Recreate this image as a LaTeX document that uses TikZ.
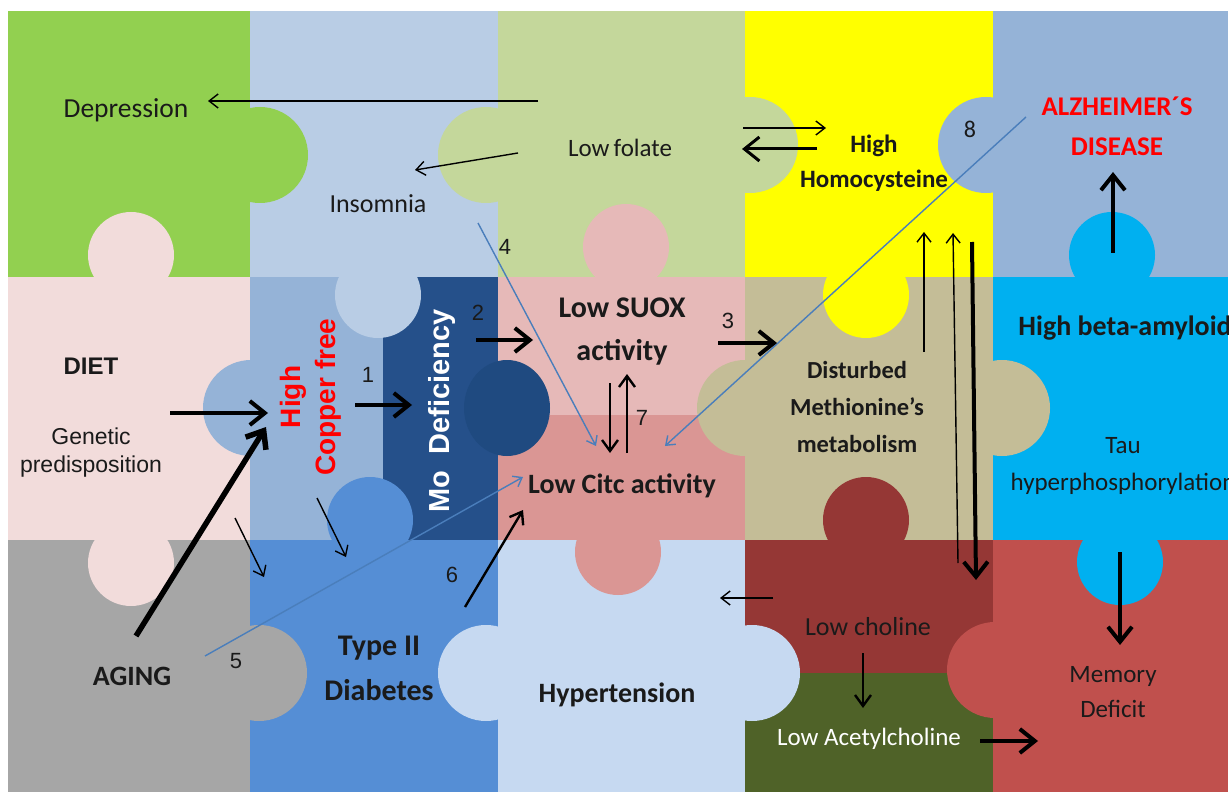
\documentclass[tikz,border=0pt]{standalone}
\usepackage{fontspec}
\setmainfont{Carlito}
\newfontfamily\arialfont{Liberation Sans}
\usepackage{xcolor}
\usepackage{tikz}
\usetikzlibrary{arrows.meta}

\definecolor{cgreen}{HTML}{92D050}
\definecolor{cinsom}{HTML}{B9CDE5}
\definecolor{cfolate}{HTML}{C4D79B}
\definecolor{cyellow}{HTML}{FFFF00}
\definecolor{calz}{HTML}{95B3D7}
\definecolor{cdiet}{HTML}{F2DCDB}
\definecolor{ccopper}{HTML}{95B3D7}
\definecolor{cmo}{HTML}{25508A}
\definecolor{cmotab}{HTML}{1F4A80}
\definecolor{csuox}{HTML}{E6B9B8}
\definecolor{ccitc}{HTML}{DA9694}
\definecolor{cbeige}{HTML}{C4BD97}
\definecolor{ccyan}{HTML}{00B0F0}
\definecolor{cgrey}{HTML}{A6A6A6}
\definecolor{cdiab}{HTML}{558ED5}
\definecolor{chyper}{HTML}{C6D9F1}
\definecolor{cchol}{HTML}{953735}
\definecolor{cacet}{HTML}{4F6228}
\definecolor{cmem}{HTML}{C0504D}
\definecolor{cblue}{HTML}{4A7EBB}
\definecolor{cred}{HTML}{FF0000}
\definecolor{ink}{HTML}{1A1A1A}

\newcommand{\fsz}[2]{\fontsize{#1}{#2}\selectfont}

\tikzset{
  thinarr/.style={line width=1.4pt,-{Straight Barb[length=9pt,width=14pt]}},
  midarr/.style={line width=2.4pt,-{Straight Barb[length=11pt,width=16pt]}},
  thickarr/.style={line width=4pt,-{Straight Barb[length=15pt,width=24pt]}},
  bluearr/.style={cblue,line width=1.4pt,-{Straight Barb[length=8pt,width=12pt]}},
  lbl/.style={inner sep=0pt,text=ink,align=center},
  numlbl/.style={inner sep=0pt,text=ink,anchor=base,font=\arialfont\fsz{22}{26}}
}

\begin{document}
\begin{tikzpicture}[x=1pt,y=-1pt]
\useasboundingbox (0,0) rectangle (1231,794);
\fill[white] (0,0) rectangle (1231,794);
\clip (8,11) rectangle (1228,792);

% pieces
\fill[cgreen]  (8,11)    rectangle (250,277);
\fill[cinsom]  (250,11)  rectangle (498,277);
\fill[cfolate] (498,11)  rectangle (745,277);
\fill[cyellow] (745,11)  rectangle (993,277);
\fill[calz]    (993,11)  rectangle (1228,277);
\fill[cdiet]   (8,277)   rectangle (250,540);
\fill[ccopper] (250,277) rectangle (383,540);
\fill[cmo]     (383,277) rectangle (498,540);
\fill[csuox]   (498,277) rectangle (745,415);
\fill[ccitc]   (498,415) rectangle (745,540);
\fill[cbeige]  (745,277) rectangle (993,540);
\fill[ccyan]   (993,277) rectangle (1228,540);
\fill[cgrey]   (8,540)   rectangle (250,792);
\fill[cdiab]   (250,540) rectangle (498,792);
\fill[chyper]  (498,540) rectangle (745,792);
\fill[cchol]   (745,540) rectangle (993,673);
\fill[cacet]   (745,673) rectangle (993,792);
\fill[cmem]    (993,540) rectangle (1228,792);

% tabs
\fill[cgreen]  (260,155) circle [radius=48];
\fill[cdiet]   (131,255) circle [radius=43];
\fill[cdiet]   (131,563) circle [radius=43];
\fill[cfolate] (486,155) circle [radius=48] (750,145) circle [radius=48];
\fill[csuox]   (626,247) circle [radius=43];
\fill[cinsom]  (378,295) circle [radius=43];
\fill[ccopper] (251,408) circle [radius=48];
\fill[cmotab]  (507,408) circle [x radius=43, y radius=48];
\fill[cdiab]   (370,520) circle [radius=43];
\fill[cgrey]   (259,673) circle [radius=48];
\fill[chyper]  (486,673) circle [radius=48] (752,673) circle [radius=48];
\fill[ccitc]   (618,552) circle [radius=43];
\fill[cbeige]  (745,408) circle [radius=48] (1002,408) circle [radius=48];
\fill[cyellow] (866,295) circle [radius=43];
\fill[cchol]   (866,520) circle [radius=43];
\fill[calz]    (986,145) circle [radius=48];
\fill[ccyan]   (1112,255) circle [radius=43] (1120,562) circle [radius=43];
\fill[cmem]    (995,670) circle [radius=48];

% labels
\node[lbl,anchor=base,font=\fsz{27.5}{33}] (depr) at (126,118) {Depression};
\node[lbl,anchor=base,font=\fsz{26}{31}] (insom) at (378,213) {Insomnia};
\node[lbl,anchor=base,font=\fsz{25}{30}] (folate) at (620,157) {Low\,folate};
\node[lbl,font=\bfseries\fsz{25}{35}] (homo) at (874,163) {High\\Homocysteine};
\node[lbl,font=\bfseries\fsz{27}{40},text=cred] (alz) at (1117,126) {ALZHEIMER´S\\DISEASE};
\node[lbl,anchor=base,font=\arialfont\bfseries\fsz{24}{28}] (diet) at (91,374) {DIET};
\node[lbl,font=\arialfont\fsz{23}{28}] (genet) at (91,453) {Genetic\\predisposition};
\node[lbl,rotate=90,font=\arialfont\bfseries\fsz{28}{35},text=cred] (copper) at (311,397) {High\\Copper free};
\node[lbl,rotate=90,font=\arialfont\bfseries\fsz{29}{34},text=white] (modef) at (442,411) {Mo~~Deficiency};
\node[lbl,font=\bfseries\fsz{30}{43}] (suox) at (622,332) {Low SUOX\\activity};
\node[lbl,anchor=base,font=\bfseries\fsz{28}{33}] (citc) at (622,493) {Low Citc activity};
\node[lbl,font=\bfseries\fsz{24.5}{37}] (methio) at (857,407) {Disturbed\\Methionine’s\\metabolism};
\node[lbl,anchor=base,font=\bfseries\fsz{28}{33}] (amyl) at (1125,335) {High beta-amyloid};
\node[lbl,font=\fsz{25}{37}] (tau) at (1123,466) {Tau\\hyperphosphorylation};
\node[lbl,anchor=base,font=\bfseries\fsz{28}{33}] (aging) at (132,685) {AGING};
\node[lbl,font=\bfseries\fsz{30}{45}] (diab) at (379,668) {Type II\\Diabetes};
\node[lbl,anchor=base,font=\bfseries\fsz{28}{33}] (hyper) at (617,702) {Hypertension};
\node[lbl,anchor=base,font=\fsz{26}{31}] (chol) at (868,635) {Low choline};
\node[lbl,anchor=base,font=\fsz{25}{30},text=white] (acet) at (869,745) {Low Acetylcholine};
\node[lbl,font=\fsz{25}{35}] (mem) at (1113,692) {Memory\\Deficit};

\node[numlbl] (n1) at (368,382) {1};
\node[numlbl] (n2) at (478,320) {2};
\node[numlbl] (n3) at (728,328) {3};
\node[numlbl] (n4) at (505,255) {4};
\node[numlbl] (n5) at (236,668) {5};
\node[numlbl] (n6) at (452,582) {6};
\node[numlbl] (n7) at (642,425) {7};
\node[numlbl,font=\fsz{24}{28}] (n8) at (970,138) {8};

% arrow ends
\coordinate (depA) at (538,101);   \coordinate (depB) at (208,101);
\coordinate (insA) at (518,153);   \coordinate (insB) at (415,170);
\coordinate (folA) at (743,128);   \coordinate (folB) at (826,128);
\coordinate (homA) at (817,149);   \coordinate (homB) at (742,149);
\coordinate (fourA) at (478,223);  \coordinate (fourB) at (596,446);
\coordinate (eightA) at (1026,117); \coordinate (eightB) at (665,446);
\coordinate (fiveA) at (205,656);  \coordinate (fiveB) at (523,477);
\coordinate (dietA) at (170,413);  \coordinate (dietB) at (268,413);
\coordinate (ageA) at (136,636);   \coordinate (ageB) at (266,427);
\coordinate (oneA) at (355,405);   \coordinate (oneB) at (412,405);
\coordinate (twoA) at (476,340);   \coordinate (twoB) at (533,340);
\coordinate (thrA) at (718,343);   \coordinate (thrB) at (777,343);
\coordinate (svnA) at (610,383);   \coordinate (svnB) at (610,453);
\coordinate (svnC) at (627,453);   \coordinate (svnD) at (627,374);
\coordinate (dgA) at (235,518);    \coordinate (dgB) at (264,577);
\coordinate (cuA) at (317,498);    \coordinate (cuB) at (346,557);
\coordinate (sixA) at (465,607);   \coordinate (sixB) at (523,510);
\coordinate (chA) at (773,598);    \coordinate (chB) at (720,598);
\coordinate (acA) at (863,653);    \coordinate (acB) at (863,708);
\coordinate (mmA) at (980,741);    \coordinate (mmB) at (1038,741);
\coordinate (tuA) at (1120,552);   \coordinate (tuB) at (1120,645);
\coordinate (adA) at (1113,253);   \coordinate (adB) at (1113,172);
\coordinate (upA) at (924,352);    \coordinate (upB) at (924,232);
\coordinate (upC) at (958,563);    \coordinate (upD) at (953,233);
\coordinate (dnA) at (972,242);    \coordinate (dnB) at (976,580);

% arrows
\draw[thinarr] (depA) -- (depB);
\draw[thinarr] (insA) -- (insB);
\draw[thinarr] (folA) -- (folB);
\draw[thickarr,line width=3pt] (homA) -- (homB);
\draw[bluearr] (fourA) -- (fourB);
\draw[bluearr] (eightA) -- (eightB);
\draw[bluearr] (fiveA) -- (fiveB);
\draw[thickarr] (dietA) -- (dietB);
\draw[thickarr,line width=5.5pt] (ageA) -- (ageB);
\draw[thickarr] (oneA) -- (oneB);
\draw[thickarr] (twoA) -- (twoB);
\draw[thickarr] (thrA) -- (thrB);
\draw[midarr] (svnA) -- (svnB);
\draw[midarr] (svnC) -- (svnD);
\draw[thinarr] (dgA) -- (dgB);
\draw[thinarr] (cuA) -- (cuB);
\draw[midarr] (sixA) -- (sixB);
\draw[thinarr] (chA) -- (chB);
\draw[midarr] (acA) -- (acB);
\draw[thickarr] (mmA) -- (mmB);
\draw[thickarr] (tuA) -- (tuB);
\draw[thickarr] (adA) -- (adB);
\draw[thinarr] (upA) -- (upB);
\draw[thinarr] (upC) -- (upD);
\draw[thickarr] (dnA) -- (dnB);
\end{tikzpicture}
\end{document}
